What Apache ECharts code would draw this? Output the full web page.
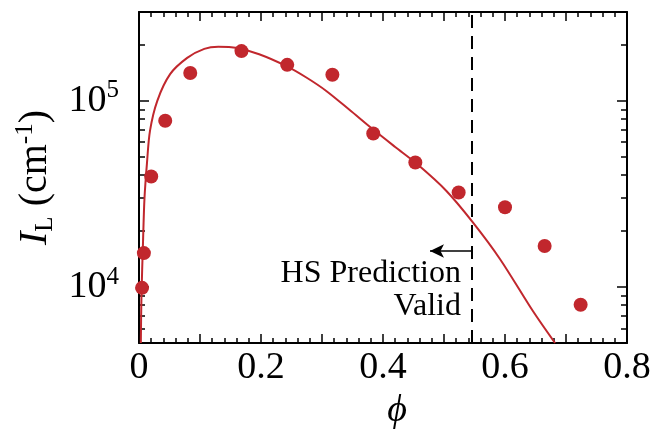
<!DOCTYPE html>
<html>
<head>
<meta charset="utf-8">
<script src="https://cdn.jsdelivr.net/npm/echarts@6/dist/echarts.min.js"></script>
<style>
html,body{margin:0;padding:0;background:#fff;}
#chart{width:652px;height:435px;}
</style>
</head>
<body>
<div id="chart"></div>
<script>
// Measured points
const phiPoints = [0.005, 0.008, 0.020, 0.043, 0.084, 0.168, 0.243, 0.317, 0.384, 0.453, 0.524, 0.600, 0.665, 0.724];
const intensityPoints = [9890, 15200, 39200, 78200, 141000, 185000, 156000, 138000, 66700, 46600, 32200, 26800, 16600, 8020];

// HS fit curve
const phiCurve = [0.003, 0.004, 0.0066, 0.009, 0.013, 0.018, 0.030, 0.051, 0.079, 0.107, 0.13, 0.161, 0.197, 0.241, 0.275, 0.307, 0.345, 0.383, 0.42, 0.455, 0.504, 0.547, 0.592, 0.646, 0.682];
const intensityCurve = [5000, 8850, 17500, 30000, 46000, 69000, 100000, 139000, 170000, 190000, 195000, 192000, 178000, 154000, 133000, 113000, 89500, 70500, 56500, 46000, 32800, 22300, 14100, 7400, 5000];

const xTickLabels = ['0', '0.2', '0.4', '0.6', '0.8'];
const yMajorTicks = [10000, 100000];
const yMinorTicks = [6000, 7000, 8000, 9000, 20000, 30000, 40000, 50000, 60000, 70000, 80000, 90000, 200000];
const validLimit = 0.545;

const FONT = '"Liberation Serif", "DejaVu Serif", serif';
const RED = '#c1272d';

const chart = echarts.init(document.getElementById('chart'));

const pointData = phiPoints.map((p, i) => [p, intensityPoints[i]]);
const curveData = phiCurve.map((p, i) => [p, intensityCurve[i]]);

function xAxisDef(pos, showLabel) {
  return {
    type: 'value', position: pos, min: 0, max: 0.8, interval: 0.1,
    axisLine: { show: true, onZero: false, lineStyle: { color: '#000', width: 2 } },
    axisTick: { show: true, inside: true, length: 9, lineStyle: { color: '#000', width: 1.5 } },
    minorTick: { show: true, splitNumber: 5, length: 5, lineStyle: { color: '#000', width: 1.5 } },
    splitLine: { show: false },
    axisLabel: {
      show: showLabel, margin: 6, color: '#000', fontFamily: FONT, fontSize: 38,
      formatter: function (v) {
        const k = Math.round(v * 10);
        return k % 2 === 0 ? xTickLabels[k / 2] : '';
      }
    },
    name: showLabel ? 'ϕ' : '', nameLocation: 'middle', nameGap: 48,
    nameTextStyle: { fontFamily: FONT, fontStyle: 'italic', fontSize: 38, color: '#000', padding: [0, 0, 0, 28] }
  };
}

function yAxisDef(pos, major, showLabel) {
  const def = {
    type: 'log', logBase: 10, position: pos, min: 5000, max: 300000,
    axisLine: { show: major, lineStyle: { color: '#000', width: 2 } },
    axisTick: { show: true, inside: true, length: major ? 10 : 6, customValues: major ? yMajorTicks : yMinorTicks, lineStyle: { color: '#000', width: 1.5 } },
    splitLine: { show: false },
    minorTick: { show: false },
    axisLabel: {
      show: showLabel, margin: 20, color: '#000', fontFamily: FONT,
      customValues: yMajorTicks,
      formatter: function (v) {
        const e = Math.round(Math.log10(v));
        return '{b|10}{s|' + e + '}';
      },
      rich: {
        b: { fontFamily: FONT, fontSize: 38, color: '#000' },
        s: { fontFamily: FONT, fontSize: 25, color: '#000', padding: [0, 0, 20, 0] }
      }
    }
  };
  if (showLabel) {
    def.name = '{i|I}{sub|L}{t| (cm}{sup|-1}{t|)}';
    def.nameLocation = 'middle';
    def.nameGap = 72;
    def.nameTextStyle = {
      rich: {
        i: { fontFamily: FONT, fontStyle: 'italic', fontSize: 40, color: '#000' },
        sub: { fontFamily: FONT, fontSize: 25, color: '#000', verticalAlign: 'bottom' },
        t: { fontFamily: FONT, fontSize: 40, color: '#000' },
        sup: { fontFamily: FONT, fontSize: 25, color: '#000', padding: [0, 0, 20, 0] }
      }
    };
  }
  return def;
}

chart.setOption({
  animation: false,
  backgroundColor: '#fff',
  grid: { left: 139, right: 25, top: 12, bottom: 92, containLabel: false, outerBoundsMode: 'none' },
  xAxis: [xAxisDef('bottom', true), xAxisDef('top', false)],
  yAxis: [
    yAxisDef('left', true, true),
    yAxisDef('left', false, false),
    yAxisDef('right', true, false),
    yAxisDef('right', false, false)
  ],
  series: [
    {
      type: 'line', data: curveData, xAxisIndex: 0, yAxisIndex: 0,
      smooth: 0.3, showSymbol: false, symbol: 'none', clip: true,
      lineStyle: { color: RED, width: 2 },
      z: 2,
      markLine: {
        silent: true, animation: false,
        label: { show: false },
        data: [
          [
            { coord: [validLimit, 5000], symbol: 'none', lineStyle: { color: '#000', width: 2, type: [13, 8] } },
            { coord: [validLimit, 300000], symbol: 'none' }
          ],
          [
            { coord: [validLimit, 15600], symbol: 'none', lineStyle: { color: '#000', width: 1.5, type: 'solid' } },
            { coord: [0.477, 15600], symbol: 'arrow', symbolSize: [10, 14] }
          ]
        ]
      }
    },
    {
      type: 'scatter', data: pointData, xAxisIndex: 0, yAxisIndex: 0,
      symbol: 'circle', symbolSize: 14,
      itemStyle: { color: RED, opacity: 1 },
      z: 3
    }
  ],
  graphic: [
    { type: 'text', right: 652 - 461, top: 258, style: { text: 'HS Prediction', font: '32px "Liberation Serif"', fill: '#000', textAlign: 'right' } },
    { type: 'text', right: 652 - 461, top: 291, style: { text: 'Valid', font: '32px "Liberation Serif"', fill: '#000', textAlign: 'right' } }
  ]
});
</script>
</body>
</html>
